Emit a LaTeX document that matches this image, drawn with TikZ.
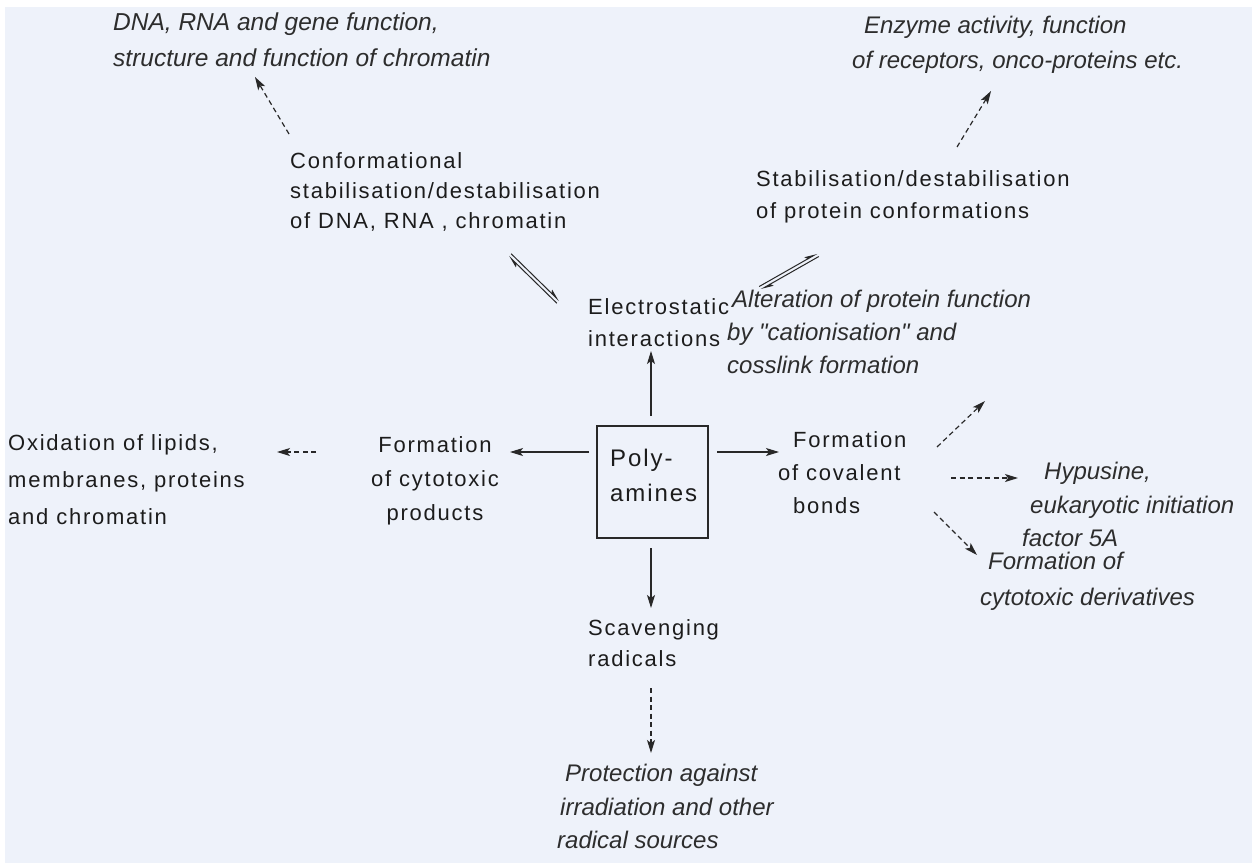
\documentclass[tikz,border=0pt]{standalone}
\usepackage{fontspec}
\setmainfont{Liberation Sans}[LetterSpace=8]
\newfontfamily\itfam{Liberation Sans}
\usetikzlibrary{arrows.meta,calc}
\definecolor{bgc}{RGB}{238,242,250}
\definecolor{txc}{RGB}{28,28,28}
\definecolor{itc}{RGB}{45,45,45}
\definecolor{lnc}{RGB}{40,40,40}
\begin{document}
\begin{tikzpicture}[x=1pt,y=-1pt,
  txt/.style={inner sep=0pt, anchor=north west, align=left, text=txc, font=\fontsize{22}{30}\selectfont},
  itxt/.style={txt, text=itc, font=\fontsize{24}{35}\selectfont\itfam\itshape},
  solidarr/.style={draw=lnc, line width=1.1pt, -{Stealth[length=13pt,width=8pt,inset=3pt]}},
  dasharr/.style={draw=lnc, line width=1.2pt, dash pattern=on 5pt off 3.5pt, -{Stealth[length=13pt,width=8pt,inset=3pt]}},
  eqline/.style={draw=lnc, line width=1pt, -{Stealth[harpoon,length=11pt,width=6pt,inset=2pt]}},
  boxst/.style={draw=lnc, line width=1.2pt, minimum width=111pt, minimum height=112pt, inner sep=0pt}
]
\useasboundingbox (0,0) rectangle (1252,863);
\fill[white] (0,0) rectangle (1252,863);
\fill[bgc] (5,7) rectangle (1252,863);

% central box
\node[boxst] (box) at (652.5,482) {};
\node[txt, font=\fontsize{24}{35}\selectfont] (poly) at (610,449) {Poly-\\amines};

% regular text blocks
\node[txt] (conf) at (290,152) {Conformational\\stabilisation/destabilisation\\of DNA, RNA , chromatin};
\node[txt, font=\fontsize{22}{32}\selectfont] (stab) at (756,170) {Stabilisation/destabilisation\\of protein conformations};
\node[txt, font=\fontsize{22}{32}\selectfont] (elec) at (588,298) {Electrostatic\\interactions};
\node[txt, anchor=north, align=center, font=\fontsize{22}{34}\selectfont] (cyto) at (435,436) {Formation\\of cytotoxic\\products};
\node[txt, font=\fontsize{22}{33}\selectfont] (cova) at (778,431) {\hspace*{15pt}Formation\\of covalent\\\hspace*{15pt}bonds};
\node[txt, font=\fontsize{22}{31}\selectfont] (scav) at (588,619) {Scavenging\\radicals};
\node[txt, font=\fontsize{22}{37}\selectfont] (oxid) at (8,434) {Oxidation of lipids,\\membranes, proteins\\and chromatin};

% italic text blocks
\node[itxt, font=\fontsize{24.5}{36}\selectfont\itfam\itshape] (dna) at (113,13) {DNA, RNA and gene function,\\structure and function of chromatin};
\node[itxt] (enz) at (852,16) {\hspace*{12pt}Enzyme activity, function\\of receptors, onco-proteins etc.};
\node[itxt, font=\fontsize{24}{33}\selectfont\itfam\itshape] (alt) at (727,290) {\hspace*{5pt}Alteration of protein function\\by "cationisation" and\\cosslink formation};
\node[itxt, font=\fontsize{24}{33.5}\selectfont\itfam\itshape] (hyp) at (1022,462) {\hspace*{22pt}Hypusine,\\\hspace*{8pt}eukaryotic initiation\\factor 5A};
\node[itxt, font=\fontsize{24}{36}\selectfont\itfam\itshape] (der) at (980,552) {\hspace*{8pt}Formation of\\cytotoxic derivatives};
\node[itxt, font=\fontsize{24}{33.5}\selectfont\itfam\itshape] (prot) at (557,764) {\hspace*{8pt}Protection against\\\hspace*{3pt}irradiation and other\\radical sources};

% connector end points
\coordinate (upS) at (651,416);   \coordinate (upE) at (651,351);
\coordinate (lfS) at (589,452);   \coordinate (lfE) at (510,452);
\coordinate (rtS) at (717,452);   \coordinate (rtE) at (779,452);
\coordinate (dnS) at (651,548);   \coordinate (dnE) at (651,608);

\coordinate (tlS) at (289,134);   \coordinate (tlE) at (255,77);
\coordinate (trS) at (957,147);   \coordinate (trE) at (991,91);
\coordinate (oxS) at (316,452);   \coordinate (oxE) at (277,452);
\coordinate (c1S) at (937,447);   \coordinate (c1E) at (985,401);
\coordinate (c2S) at (951,478);   \coordinate (c2E) at (1018,478);
\coordinate (c3S) at (934,512);   \coordinate (c3E) at (977,555);
\coordinate (bdS) at (651,688);   \coordinate (bdE) at (651,753);

\coordinate (eqLa) at (510,255);  \coordinate (eqLb) at (558,302);
\coordinate (eqRa) at (760,288);  \coordinate (eqRb) at (818,255);

% solid arrows from box
\draw[solidarr] (upS) -- (upE);
\draw[solidarr] (lfS) -- (lfE);
\draw[solidarr] (rtS) -- (rtE);
\draw[solidarr] (dnS) -- (dnE);

% dashed arrows
\draw[dasharr] (tlS) -- (tlE);
\draw[dasharr] (trS) -- (trE);
\draw[dasharr] (oxS) -- (oxE);
\draw[dasharr] (c1S) -- (c1E);
\draw[dasharr] (c2S) -- (c2E);
\draw[dasharr] (c3S) -- (c3E);
\draw[dasharr] (bdS) -- (bdE);

% equilibrium arrows
\draw[eqline] ($(eqLa)!1.7pt!90:(eqLb)$) -- ($(eqLb)!1.7pt!-90:(eqLa)$);
\draw[eqline] ($(eqLb)!1.7pt!90:(eqLa)$) -- ($(eqLa)!1.7pt!-90:(eqLb)$);
\draw[eqline] ($(eqRa)!1.7pt!90:(eqRb)$) -- ($(eqRb)!1.7pt!-90:(eqRa)$);
\draw[eqline] ($(eqRb)!1.7pt!90:(eqRa)$) -- ($(eqRa)!1.7pt!-90:(eqRb)$);
\end{tikzpicture}
\end{document}
